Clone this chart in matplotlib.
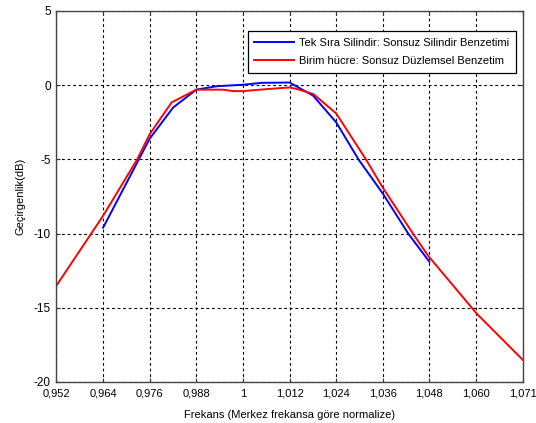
import matplotlib
matplotlib.use("Agg")
import matplotlib.pyplot as plt
import numpy as np

plt.rcParams['font.family'] = ['Liberation Sans', 'DejaVu Sans']

# Data
blue_f = [0.9639, 0.9758, 0.9818, 0.9877, 0.9929, 0.9996, 1.0044, 1.0115,
          1.0175, 1.0234, 1.0291, 1.0353, 1.0418, 1.0472]
blue_db = [-9.6, -3.6, -1.5, -0.3, -0.07, 0.03, 0.16, 0.18,
           -0.7, -2.5, -5.0, -7.3, -10.0, -11.9]

red_f = [0.952, 0.9639, 0.9726, 0.9758, 0.9814, 0.9877, 0.9945,
         0.9971, 0.9996, 1.0040, 1.0115, 1.0133, 1.0176, 1.0234, 1.0310,
         1.0353, 1.0430, 1.0469, 1.0593, 1.071]
red_db = [-13.5, -8.8, -5.0, -3.3, -1.16, -0.3, -0.3,
          -0.4, -0.4, -0.3, -0.15, -0.25, -0.6, -1.9, -5.0,
          -6.9, -10.0, -11.5, -15.4, -18.5]

xtick_labels = ['0,952', '0,964', '0,976', '0,988', '1', '1,012', '1,024',
                '1,036', '1,048', '1,060', '1,071']
yticks = [-20, -15, -10, -5, 0, 5]

blue_label = 'Tek Sıra Silindir: Sonsuz Silindir Benzetimi'
red_label = 'Birim hücre: Sonsuz Düzlemsel Benzetim'

fig = plt.figure(figsize=(5.36, 4.23), dpi=100)
ax = fig.add_axes([0.1054, 0.097, 0.8696, 0.877])

ax.plot(blue_f, blue_db, color='#0000ff', lw=1.4, label=blue_label)
ax.plot(red_f, red_db, color='#ff0000', lw=1.4, label=red_label)

ax.set_xlim(0.952, 1.071)
ax.set_ylim(-20, 5)
xt = np.linspace(0.952, 1.071, len(xtick_labels))
ax.set_xticks(xt)
ax.set_xticklabels(xtick_labels)
ax.set_yticks(yticks)
ax.set_yticklabels([str(v) for v in yticks])

ax.grid(True, color='black', linestyle=(0, (2.5, 2.5)), linewidth=0.8)
ax.tick_params(direction='in', length=3, labelsize=8, top=True, right=True,
               color='#333333')
ax.tick_params(axis='x', pad=5)
ax.tick_params(axis='y', pad=4, labelsize=8.5)
for s in ax.spines.values():
    s.set_color('#444444')
    s.set_linewidth(1.0)

ax.set_xlabel('Frekans (Merkez frekansa göre normalize)', fontsize=8, labelpad=8)
ax.set_ylabel('Geçirgenlik(dB)', fontsize=8, labelpad=6)

leg = ax.legend(loc='upper right', bbox_to_anchor=(0.986, 0.946), fontsize=8,
                fancybox=False, framealpha=1, edgecolor='black',
                handlelength=3.6, handletextpad=0.45, borderpad=0.6,
                labelspacing=0.75, borderaxespad=0)
leg.get_frame().set_linewidth(0.9)

fig.savefig('out.png', dpi=100)
